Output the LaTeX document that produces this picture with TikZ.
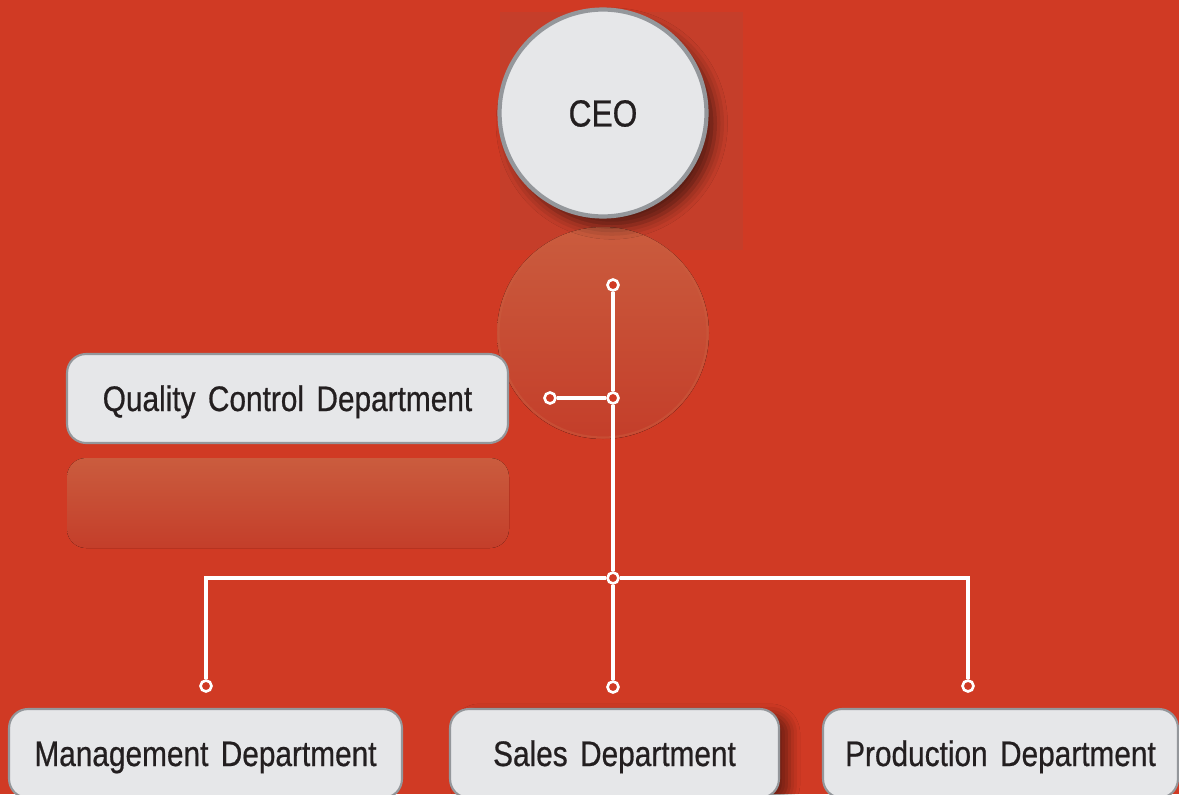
\documentclass[tikz,border=0pt]{standalone}
\usepackage{fontspec}
\setmainfont{Liberation Sans}[FakeStretch=0.84, FakeBold=0.6, WordSpace=1.5]
\usepackage{xcolor}
\usetikzlibrary{shadows.blur}
\definecolor{backdrop}{RGB}{208,58,36}
\definecolor{panel}{RGB}{197,62,42}
\definecolor{mirrortop}{RGB}{202,92,62}
\definecolor{mirrorbottom}{RGB}{196,62,42}
\definecolor{boxfill}{RGB}{230,231,233}
\definecolor{boxline}{RGB}{148,151,155}
\definecolor{ink}{RGB}{35,31,32}
\tikzstyle{unit}=[rectangle, rounded corners=0.38cm, fill=boxfill, draw=boxline, line width=1.2pt, text=ink, inner sep=0pt, minimum height=1.78cm, text height=0.5cm, text depth=0pt, font=\fontsize{20.2}{24}\selectfont]
\tikzstyle{chief}=[circle, fill=boxfill, draw=boxline, line width=2.4pt, text=ink, inner sep=0pt, minimum size=4.14cm, text height=0.54cm, text depth=0pt, font=\fontsize{21.5}{24}\selectfont]
\tikzset{joint/.style={circle, draw=white, fill=backdrop, line width=1.5pt, inner sep=0pt, minimum size=0.22cm}}
\tikzset{link/.style={draw=white, line width=1.8pt}}
\tikzset{mirror/.style={top color=mirrortop, bottom color=mirrorbottom}}

\begin{document}
\begin{tikzpicture}[x=0.02cm,y=-0.02cm]
  \clip (0,0) rectangle (1179,794);
  \fill[backdrop] (0,0) rectangle (1179,794);
  %% backdrop things
  \fill[panel] (500,12) rectangle (743,250);
  \fill[mirror] (603,333) circle (106);
  \draw[draw=mirrortop, line width=1.2pt, opacity=.5] (603,333) circle (104.5);
  \fill[mirror, rounded corners=0.38cm] (67,458) rectangle (509,548);

  %% joints
  \draw (613,285) node[joint] (top) {};
  \draw (613,398) node[joint] (qjoin) {};
  \draw (550,398) node[joint] (qend) {};
  \draw (613,578) node[joint] (hub) {};
  \coordinate (mcorner) at (206,578);
  \coordinate (pcorner) at (968,578);
  \draw (206,686) node[joint] (mdot) {};
  \draw (613,687) node[joint] (sdot) {};
  \draw (968,686) node[joint] (pdot) {};

  \draw[link] (top) -- (qjoin);
  \draw[link] (qjoin) -- (hub);
  \draw[link] (hub) -- (sdot);
  \draw[link] (qend) -- (qjoin);
  \draw[link] (hub) -- (mcorner) -- (mdot);
  \draw[link] (hub) -- (pcorner) -- (pdot);

  %% units
  \draw (287.5,398.5) node[unit, minimum width=8.82cm] (quality) {Quality Control Department};
  \draw (205.5,753.5) node[unit, minimum width=7.86cm] (management) {Management Department};
  \draw (614.5,753.5) node[unit, minimum width=6.58cm, blur shadow={shadow xshift=6pt, shadow yshift=-3pt, shadow opacity=45, shadow blur radius=6pt}] (sales) {Sales Department};
  \draw (1000.5,753.5) node[unit, minimum width=7.1cm] (production) {Production Department};

  \draw (603,113) node[chief, blur shadow={shadow xshift=5pt, shadow yshift=-6pt, shadow opacity=55, shadow blur radius=7pt}] (ceo) {CEO};
\end{tikzpicture}
\end{document}
